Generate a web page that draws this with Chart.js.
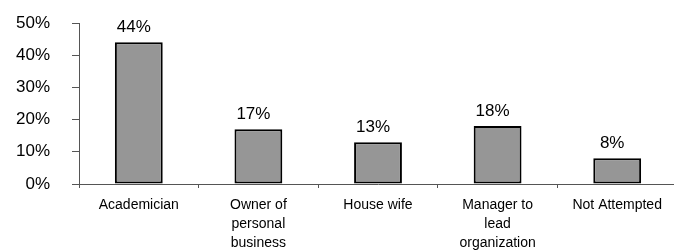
<!DOCTYPE html>
<html>
<head>
<meta charset="utf-8">
<script src="https://cdn.jsdelivr.net/npm/chart.js@4"></script>
<style>
  html, body { margin: 0; padding: 0; background: #fff; overflow: hidden; }
</style>
</head>
<body>
<canvas id="chart" width="680" height="251"></canvas>
<script>
const categories = [
  "Academician",
  ["Owner of", "personal", "business"],
  "House wife",
  ["Manager to", "lead", "organization"],
  "Not Attempted",
];
const shares = [44, 17, 13, 18, 8];
const yTicks = [0, 10, 20, 30, 40, 50];

const FONT = "'Liberation Sans', Arial, sans-serif";

// percent labels over the bars
const barLabels = {
  id: "barLabels",
  afterDatasetsDraw(chart) {
    const ctx = chart.ctx;
    const meta = chart.getDatasetMeta(0);
    ctx.save();
    ctx.font = "17px " + FONT;
    ctx.fillStyle = "#000";
    ctx.textAlign = "center";
    ctx.textBaseline = "alphabetic";
    meta.data.forEach((bar, i) => {
      ctx.fillText(shares[i] + "%", bar.x - 5, bar.y - 10);
    });
    ctx.restore();
  },
};

const ctx = document.getElementById("chart").getContext("2d");
new Chart(ctx, {
  type: "bar",
  data: {
    labels: categories,
    datasets: [
      {
        data: shares,
        backgroundColor: "#969696",
        borderColor: "#000",
        borderWidth: 2,
        borderSkipped: false,
        barPercentage: 0.4,
        categoryPercentage: 1,
      },
    ],
  },
  options: {
    responsive: false,
    animation: false,
    layout: { padding: { top: 23, right: 3, left: 0, bottom: 0 } },
    plugins: {
      legend: { display: false },
      tooltip: { enabled: false },
    },
    scales: {
      x: {
        grid: { drawOnChartArea: false, tickLength: 4, color: "#555", offset: true },
        border: { color: "#555" },
        ticks: {
          font: { family: FONT, size: 14, lineHeight: 1.36 },
          color: "#000",
          padding: 8,
          maxRotation: 0,
          autoSkip: false,
        },
        afterFit: (s) => { s.height = 67; },
      },
      y: {
        min: 0,
        max: 50,
        afterBuildTicks: (s) => { s.ticks = yTicks.map((v) => ({ value: v })); },
        grid: { drawOnChartArea: false, tickLength: 7, color: "#555" },
        border: { color: "#555" },
        ticks: {
          font: { family: FONT, size: 17 },
          color: "#000",
          padding: 22,
          callback: (v) => v + "%",
        },
        afterFit: (s) => {
          s.width = 79;
          s.paddingTop = 0;
          s.paddingBottom = 0;
        },
      },
    },
  },
  plugins: [barLabels],
});
</script>
</body>
</html>
